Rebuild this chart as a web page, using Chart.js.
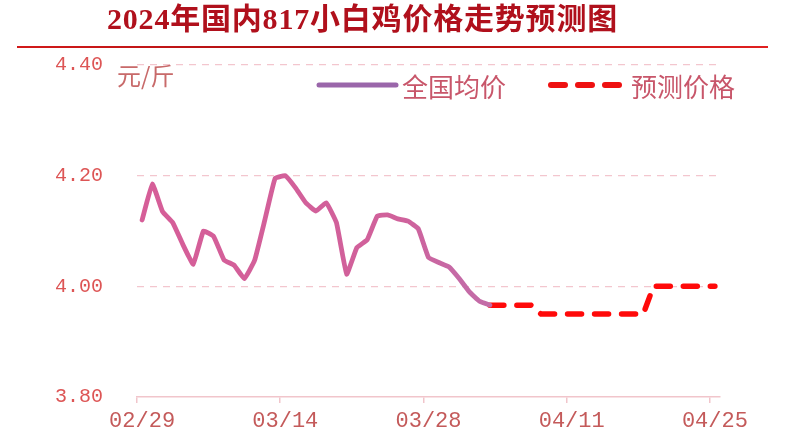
<!DOCTYPE html>
<html>
<head>
<meta charset="utf-8">
<script src="https://cdn.jsdelivr.net/npm/chart.js@4"></script>
<style>
  html, body { margin:0; padding:0; background:#fff; width:800px; height:443px; overflow:hidden; }
  #wrap { position:relative; width:800px; height:443px; }
  #c { position:absolute; left:0; top:0; }
  #title { position:absolute; left:107px; top:2px; font-family:"Liberation Serif","Noto Sans CJK SC",serif; font-weight:700; font-size:30px; line-height:34px; color:#b0101c; letter-spacing:0.8px; white-space:nowrap; }
  #rule { position:absolute; left:17px; top:46px; width:751px; height:2px; background:linear-gradient(90deg,#d21a1a 0%,#a80d10 45%,#c51414 70%,#e02020 100%); }
  #unit { position:absolute; left:117px; top:62px; font-family:"Noto Sans CJK SC",sans-serif; font-size:24px; line-height:26px; color:#c86a6a; white-space:nowrap; }
  .lg { position:absolute; font-family:"Noto Sans CJK SC",sans-serif; font-size:26px; line-height:28px; color:#c8566a; white-space:nowrap; }
  svg.lgl { position:absolute; }
</style>
</head>
<body>
<div id="wrap">
  <canvas id="c" width="800" height="443"></canvas>
  <div id="title">2024年国内817小白鸡价格走势预测图</div>
  <div id="rule"></div>
  <div id="unit">元/斤</div>
  <svg class="lgl" style="left:314px;top:78px" width="90" height="14"><line x1="5" y1="7" x2="82" y2="7" stroke="#9a66aa" stroke-width="5" stroke-linecap="round"/></svg>
  <div class="lg" id="lg1" style="left:402px;top:72px">全国均价</div>
  <svg class="lgl" style="left:544px;top:78px" width="84" height="14"><line x1="7" y1="7" x2="77" y2="7" stroke="#ee1111" stroke-width="6" stroke-linecap="round" stroke-dasharray="14 13"/></svg>
  <div class="lg" id="lg2" style="left:631px;top:72px">预测价格</div>
</div>
<script>
const labels = ["02/29","03/01","03/02","03/03","03/04","03/05","03/06","03/07","03/08","03/09",
  "03/10","03/11","03/12","03/13","03/14","03/15","03/16","03/17","03/18","03/19",
  "03/20","03/21","03/22","03/23","03/24","03/25","03/26","03/27","03/28","03/29",
  "03/30","03/31","04/01","04/02","04/03","04/04","04/05","04/06","04/07","04/08",
  "04/09","04/10","04/11","04/12","04/13","04/14","04/15","04/16","04/17","04/18",
  "04/19","04/20","04/21","04/22","04/23","04/24","04/25"];

const avgPrice = [4.12,4.185,4.135,4.115,4.075,4.04,4.10,4.09,4.048,4.038,
  4.014,4.047,4.12,4.195,4.20,4.178,4.151,4.136,4.151,4.115,
  4.022,4.07,4.084,4.127,4.129,4.122,4.118,4.104,4.052,4.043,
  4.035,4.014,3.99,3.973,3.966,null,null,null,null,null,
  null,null,null,null,null,null,null,null,null,null,
  null,null,null,null,null,null,null];

const forecastPrice = [null,null,null,null,null,null,null,null,null,null,
  null,null,null,null,null,null,null,null,null,null,
  null,null,null,null,null,null,null,null,null,null,
  null,null,null,null,3.966,3.966,3.966,3.966,3.966,3.95,
  3.95,3.95,3.95,3.95,3.95,3.95,3.95,3.95,3.95,3.95,
  4.00,4.00,4.00,4.00,4.00,4.00,4.00];

const yTicks = [3.80, 4.00, 4.20, 4.40];
const tickEvery = 14;

const ctx = document.getElementById('c').getContext('2d');
new Chart(ctx, {
  type: 'line',
  data: {
    labels: labels,
    datasets: [
      {
        label: '全国均价',
        data: avgPrice,
        borderColor: function(c) {
          const ca = c.chart.chartArea;
          if (!ca) return '#d45f9a';
          const g = c.chart.ctx.createLinearGradient(ca.left, 0, ca.right, 0);
          g.addColorStop(0, '#d65e98');
          g.addColorStop(0.45, '#d0619b');
          g.addColorStop(0.55, '#c56aa6');
          g.addColorStop(1, '#b674ae');
          return g;
        },
        borderWidth: 4.8,
        pointRadius: 0,
        tension: 0.1,
        borderJoinStyle: 'round',
        borderCapStyle: 'round',
        spanGaps: false
      },
      {
        label: '预测价格',
        data: forecastPrice,
        borderColor: '#ff0a0a',
        borderWidth: 5.5,
        borderDash: [14, 13],
        borderCapStyle: 'round',
        pointRadius: 0,
        tension: 0
      }
    ]
  },
  options: {
    responsive: false,
    animation: false,
    layout: { padding: { left: 0, right: 80, top: 65, bottom: 0 } },
    plugins: { legend: { display: false }, tooltip: { enabled: false } },
    scales: {
      x: {
        type: 'category',
        offset: true,
        afterFit: function(s) { s.height = 43; },
        border: { display: true, color: '#f1c5cb', width: 1.5 },
        grid: {
          offset: true,
          drawOnChartArea: false,
          drawTicks: true,
          tickLength: 6,
          lineWidth: 1.5,
          color: function(c) { return (c.index % tickEvery === 0) ? '#f1c5cb' : 'rgba(0,0,0,0)'; }
        },
        ticks: {
          autoSkip: false,
          maxRotation: 0,
          padding: 5,
          color: '#c45a5a',
          font: { family: 'Liberation Mono', size: 22 },
          callback: function(v, i) { return (i % tickEvery === 0) ? labels[i] : ''; }
        }
      },
      y: {
        min: 3.8,
        max: 4.4,
        afterFit: function(s) { s.width = 137; },
        afterBuildTicks: function(s) { s.ticks = yTicks.map(v => ({ value: v })); },
        border: { display: false, dash: [7, 6] },
        grid: {
          drawTicks: false,
          lineWidth: 1.2,
          color: function(c) { return c.index === 0 ? 'rgba(0,0,0,0)' : '#f3c6ce'; }
        },
        ticks: {
          padding: 34,
          color: '#dd5555',
          font: { family: 'Liberation Mono', size: 20 },
          callback: function(v) { return Number(v).toFixed(2); }
        }
      }
    }
  }
});
</script>
</body>
</html>
